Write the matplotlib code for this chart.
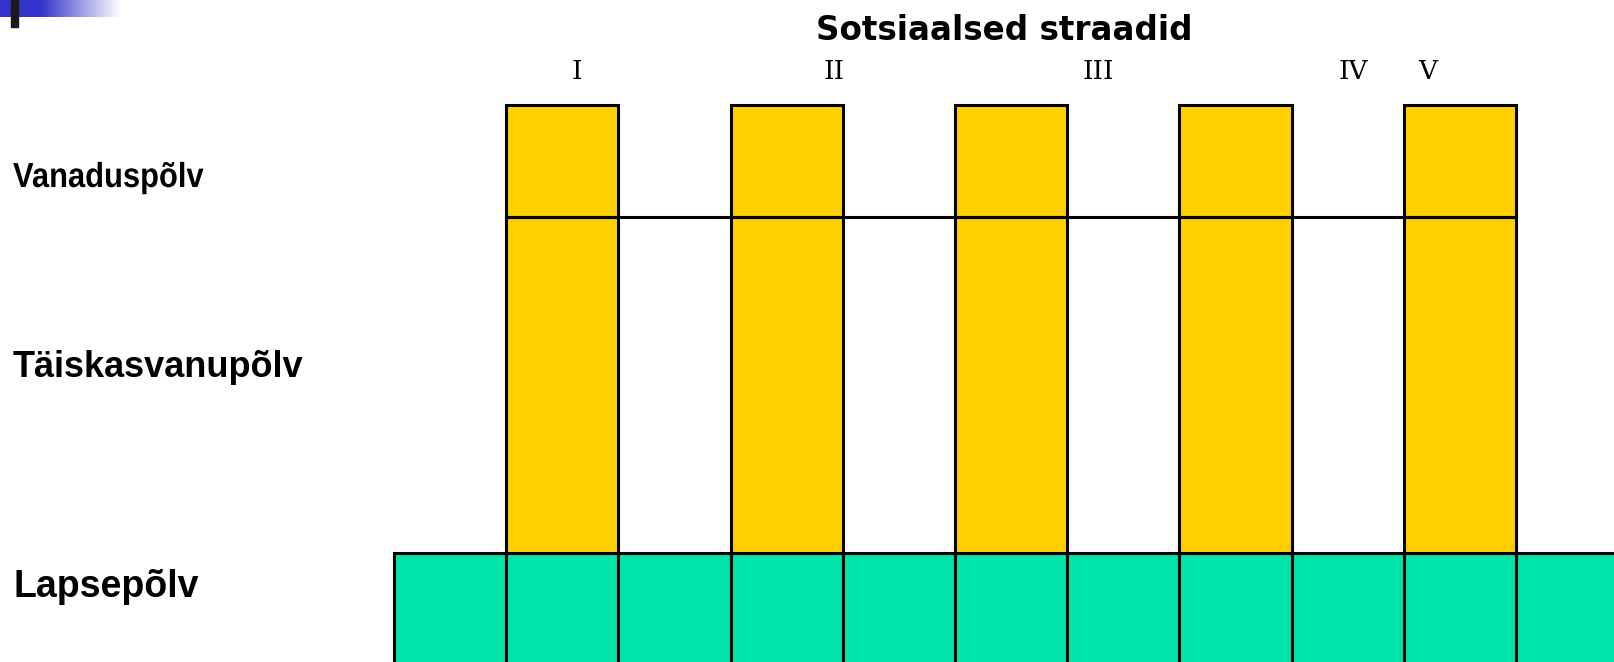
import numpy as np
import matplotlib.pyplot as plt
from matplotlib.patches import Rectangle, PathPatch
from matplotlib.textpath import TextPath
from matplotlib.font_manager import FontProperties
from matplotlib.transforms import Affine2D

# social strata (columns) and life stages (rows, bottom to top)
strata = ['I', 'II', 'III', 'IV', 'V']
generations = ['Lapsepõlv', 'Täiskasvanupõlv', 'Vanaduspõlv']
row_heights = [1, 3, 1]      # relative heights of the three rows
n_cells = 11                 # cells in the childhood row
title = 'Sotsiaalsed straadid'

W, H = 1615, 662
yellow = '#FFD000'
green = '#00E3A9'
lw = 2.2

fig = plt.figure(figsize=(W / 100, H / 100), dpi=100)
fig.patch.set_facecolor('white')


def fx(px):
    return px / W


def fy(py):
    return 1 - py / H


# main drawing area, one unit = one cell
ux, uy = 112.2, 112.0
ax = fig.add_axes([0, 0, 1, 1])
ax.set_xlim(-394 / ux, (W - 394) / ux)
ax.set_ylim((665 - H) / uy, 665 / uy)
ax.axis('off')

# childhood row: continuous band of cells
ax.bar(np.arange(n_cells), row_heights[0], width=1, bottom=0, align='edge',
       color=green, edgecolor='black', linewidth=lw, clip_on=False)

# strata columns through adulthood and old age
bar_x = np.arange(len(strata)) * 2 + 1
adult_bottom = row_heights[0]
old_bottom = row_heights[0] + row_heights[1]
ax.bar(bar_x, row_heights[1], width=1, bottom=adult_bottom, align='edge',
       color=yellow, edgecolor='black', linewidth=lw)
ax.bar(bar_x, row_heights[2], width=1, bottom=old_bottom, align='edge',
       color=yellow, edgecolor='black', linewidth=lw)
ax.hlines(old_bottom, bar_x[0], bar_x[-1] + 1, color='black', linewidth=lw)

# title and strata numerals
fig.text(fx(1004), fy(40), title, ha='center', va='baseline',
         fontsize=23.5, fontweight='bold', family='DejaVu Sans')
numeral_px = [577, 834, 1098, 1353, 1428]
for s, px in zip(strata, numeral_px):
    fig.text(fx(px), fy(79), s, ha='center', va='baseline',
             fontsize=19, family='DejaVu Serif')

# row labels; the top one is set in a condensed face (squeezed path)
fp = FontProperties(family='Liberation Sans', weight='bold')
tp = TextPath((0, 0), generations[2], size=25 * 100 / 72, prop=fp)
tr = (Affine2D().scale(0.89, 1).translate(13, H - 187).scale(1 / W, 1 / H)
      + fig.transFigure)
fig.add_artist(PathPatch(tp, transform=tr, facecolor='black', lw=0))

fig.text(fx(13), fy(377), generations[1], ha='left', va='baseline',
         fontsize=26, fontweight='bold', family='Liberation Sans')
fig.text(fx(14), fy(597), generations[0], ha='left', va='baseline',
         fontsize=27, fontweight='bold', family='Liberation Sans')

# slide bullet decoration in the corner
gx = np.arange(120)
alpha = np.clip((120 - gx) / 80, 0, 1)
grad = np.zeros((1, 120, 4))
grad[0, :, 0] = 0.2
grad[0, :, 1] = 0.2
grad[0, :, 2] = 0.8
grad[0, :, 3] = alpha
gax = fig.add_axes([0, fy(17), fx(120), 17 / H])
gax.imshow(grad, aspect='auto')
gax.axis('off')
fig.add_artist(Rectangle((fx(11), fy(27)), 7 / W, 27 / H,
                         transform=fig.transFigure, color='#1a1a1a'))

fig.savefig('out.png', dpi=100)
